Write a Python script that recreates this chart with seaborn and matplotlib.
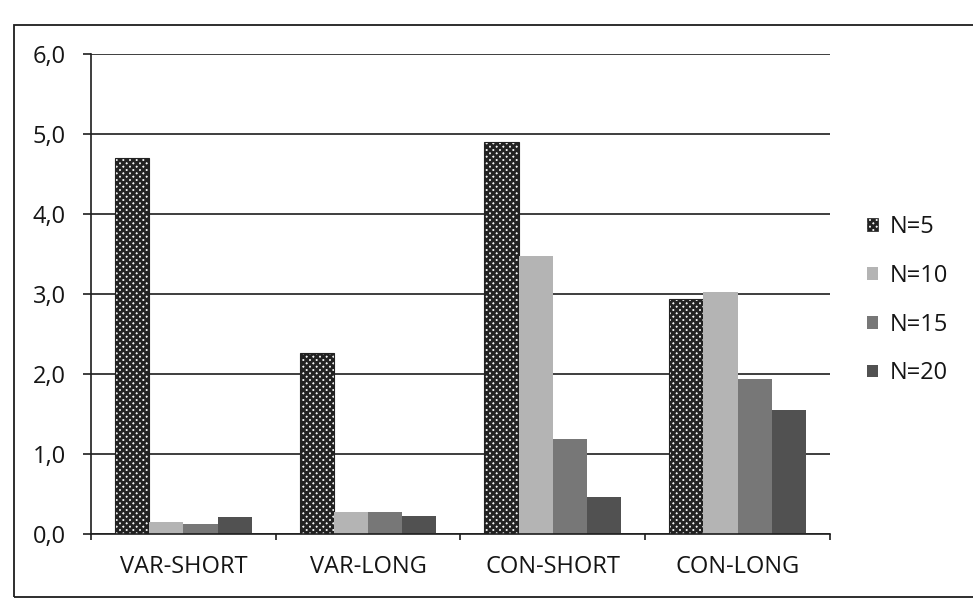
import matplotlib
matplotlib.use("Agg")
import matplotlib.pyplot as plt
from matplotlib.patches import Patch, Rectangle
from matplotlib.ticker import FixedLocator, FuncFormatter
import pandas as pd
import seaborn as sns

# ---- data ----
categories = ["VAR-SHORT", "VAR-LONG", "CON-SHORT", "CON-LONG"]
series_names = ["N=5", "N=10", "N=15", "N=20"]
n5 = [4.70, 2.27, 4.90, 2.94]
n10 = [0.15, 0.28, 3.48, 3.03]
n15 = [0.13, 0.27, 1.19, 1.94]
n20 = [0.21, 0.22, 0.46, 1.55]
y_ticks = [0.0, 1.0, 2.0, 3.0, 4.0, 5.0, 6.0]

series_values = [n5, n10, n15, n20]
df = pd.DataFrame(
    [(c, s, v) for s, vals in zip(series_names, series_values)
     for c, v in zip(categories, vals)],
    columns=["group", "N", "value"],
)

# ---- style ----
sns.set_style("white")
plt.rcParams["font.family"] = ["Open Sans", "DejaVu Sans"]
plt.rcParams["hatch.linewidth"] = 2.0
text_color = "#151515"
line_color = "#1e1e1e"
hatch_color = "#222222"
hatch_pattern = "xxxxx"
bar_colors = {"N=5": "#f4f4f4", "N=10": "#b4b4b4", "N=15": "#777777", "N=20": "#515151"}

fig = plt.figure(figsize=(9.73, 6.09), dpi=100)
ax = fig.add_axes([0.0935, 0.123, 0.7595, 0.788])

sns.barplot(
    data=df, x="group", y="value", hue="N", order=categories,
    hue_order=series_names, palette=bar_colors, saturation=1,
    width=0.74, dodge=True, ax=ax, legend=False,
)

# dense cross-hatched texture for the N=5 series
for bar in ax.containers[0]:
    bar.set_hatch(hatch_pattern)
    bar.set_edgecolor(hatch_color)
    bar.set_linewidth(0.8)
for cont in ax.containers[1:]:
    for bar in cont:
        bar.set_linewidth(0)

# ---- axes ----
ax.set_ylim(0, 6)
ax.set_xlim(-0.5, len(categories) - 0.5)
ax.yaxis.set_major_locator(FixedLocator(y_ticks))
ax.yaxis.set_major_formatter(FuncFormatter(lambda v, p: f"{v:.1f}".replace(".", ",")))
ax.yaxis.grid(True, color=line_color, linewidth=1.2)
ax.set_axisbelow(True)
ax.set_xlabel("")
ax.set_ylabel("")

for side in ("top", "right"):
    ax.spines[side].set_visible(False)
for side in ("left", "bottom"):
    ax.spines[side].set_color(line_color)
    ax.spines[side].set_linewidth(1.2)

ax.tick_params(axis="y", direction="out", length=6, width=1.2, color=line_color,
               pad=12, labelsize=17, labelcolor=text_color, left=True)
ax.set_xticks(range(len(categories)))
ax.set_xticklabels(categories)
ax.tick_params(axis="x", which="major", length=0, pad=15, labelsize=17,
               labelcolor=text_color)
ax.set_xticks([i - 0.5 for i in range(len(categories) + 1)], minor=True)
ax.tick_params(axis="x", which="minor", direction="out", length=4, width=1.2,
               color=line_color, bottom=True)

# ---- legend ----
handles = []
for name in series_names:
    if name == "N=5":
        handles.append(Patch(facecolor=bar_colors[name], edgecolor=hatch_color,
                             hatch=hatch_pattern, linewidth=0.5, label=name))
    else:
        handles.append(Patch(facecolor=bar_colors[name], edgecolor="none", label=name))
fig.legend(handles=handles, loc="center left", bbox_to_anchor=(0.891, 0.507),
           frameon=False, fontsize=17, handlelength=0.45, handleheight=0.45,
           handletextpad=0.5, labelspacing=1.05, borderpad=0, borderaxespad=0,
           labelcolor=text_color)

# ---- outer chart border ----
fig.add_artist(Rectangle((0.0144, 0.0197), 1.2, 0.939, transform=fig.transFigure,
                         fill=False, edgecolor=line_color, linewidth=1.3))

fig.savefig("out.png", dpi=100, facecolor="white")
